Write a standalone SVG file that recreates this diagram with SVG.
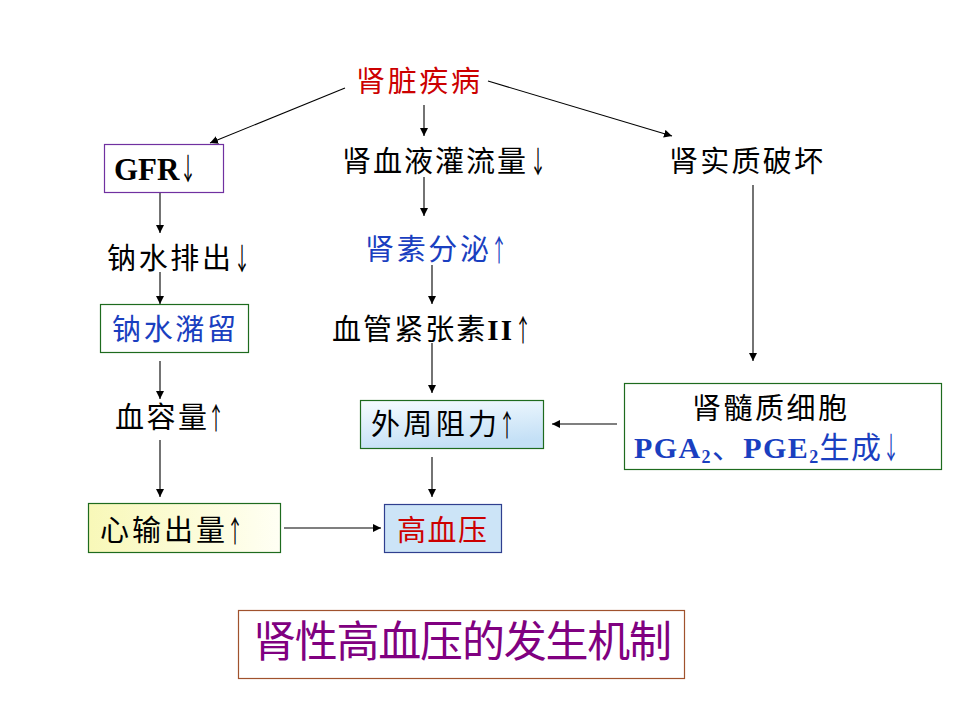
<svg xmlns="http://www.w3.org/2000/svg" width="960" height="720" viewBox="0 0 960 720">
<defs>
<style>
.t{font-family:"Noto Sans CJK SC","Noto Sans",sans-serif;font-size:29px;fill:#000}
.ar{font-family:"Noto Sans CJK SC",sans-serif;font-size:30px;text-anchor:middle;fill:#000;text-rendering:geometricPrecision}
.b{font-family:"Liberation Serif","Noto Sans CJK SC",serif;font-weight:bold}
.red{fill:#cc0000}
.blue{fill:#1a3fc0}
.c{stroke:#000;stroke-width:1.1;fill:none;marker-end:url(#ah)}
</style>
<marker id="ah" viewBox="0 0 10 10" refX="10" refY="5" markerWidth="8" markerHeight="8" markerUnits="userSpaceOnUse" orient="auto">
<path d="M0,0 L10,5 L0,10 z" fill="#000"/>
</marker>
<linearGradient id="gy" x1="0" y1="0" x2="1" y2="0">
<stop offset="0" stop-color="#f8f8b8"/>
<stop offset="1" stop-color="#fffff4"/>
</linearGradient>
<linearGradient id="gb" x1="0" y1="0" x2="0.3" y2="1">
<stop offset="0" stop-color="#f6fcff"/>
<stop offset="1" stop-color="#c4e0f6"/>
</linearGradient>
</defs>
<rect width="960" height="720" fill="#fff"/>

<g id="connectors">
<line class="c" x1="345" y1="88" x2="210" y2="143"/>
<line class="c" x1="424" y1="105" x2="424" y2="136"/>
<line class="c" x1="488" y1="81" x2="672" y2="136"/>
<line class="c" x1="160" y1="185" x2="160" y2="233"/>
<line class="c" x1="424" y1="177" x2="424" y2="216"/>
<line class="c" x1="160" y1="272" x2="160" y2="304"/>
<line class="c" x1="432" y1="265" x2="432" y2="304"/>
<line class="c" x1="753" y1="185" x2="753" y2="361"/>
<line class="c" x1="160" y1="361" x2="160" y2="399"/>
<line class="c" x1="432" y1="343" x2="432" y2="393"/>
<line class="c" x1="617" y1="424" x2="552" y2="424"/>
<line class="c" x1="160" y1="440" x2="160" y2="497"/>
<line class="c" x1="432" y1="457" x2="432" y2="497"/>
<line class="c" x1="284" y1="528" x2="381" y2="528"/>
</g>

<g id="n-kidney-disease">
<text class="t red" x="356" y="92" textLength="124" lengthAdjust="spacing">肾脏疾病</text>
</g>

<g id="n-gfr">
<rect x="104.5" y="144.5" width="119" height="48" fill="#fff" stroke="#7030a0" stroke-width="1.2"/>
<text class="b" x="114" y="180" style="font-size:31px">GFR</text>
<text class="ar" transform="translate(188,180) scale(0.55,1)">↓</text>
</g>

<g id="n-renal-perfusion">
<text class="t" x="342" y="172" textLength="184" lengthAdjust="spacing">肾血液灌流量</text>
<text class="ar" transform="translate(538,173) scale(0.55,1)">↓</text>
</g>

<g id="n-parenchyma">
<text class="t" x="669" y="172" textLength="154" lengthAdjust="spacing">肾实质破坏</text>
</g>

<g id="n-na-excretion">
<text class="t" x="107" y="269" textLength="124" lengthAdjust="spacing">钠水排出</text>
<text class="ar" transform="translate(242,270) scale(0.55,1)">↓</text>
</g>

<g id="n-renin">
<text class="t blue" x="365" y="260" textLength="124" lengthAdjust="spacing">肾素分泌</text>
<text class="ar blue" transform="translate(499,261) scale(0.55,1)">↑</text>
</g>

<g id="n-na-retention">
<rect x="100.5" y="304.5" width="148" height="48" fill="#fff" stroke="#1e6b1e" stroke-width="1.2"/>
<text class="t blue" x="112" y="340" textLength="124" lengthAdjust="spacing">钠水潴留</text>
</g>

<g id="n-angiotensin">
<text class="t" x="332" y="340" textLength="180" lengthAdjust="spacing">血管紧张素<tspan class="b">II</tspan></text>
<text class="ar" transform="translate(523,341) scale(0.55,1)">↑</text>
</g>

<g id="n-blood-volume">
<text class="t" x="115" y="428" textLength="92" lengthAdjust="spacing">血容量</text>
<text class="ar" transform="translate(216,429) scale(0.55,1)">↑</text>
</g>

<g id="n-peripheral-resistance">
<rect x="360.5" y="400.5" width="183" height="48" fill="url(#gb)" stroke="#1e6b1e" stroke-width="1.2"/>
<text class="t" x="371" y="435" textLength="126" lengthAdjust="spacing">外周阻力</text>
<text class="ar" transform="translate(507,436) scale(0.55,1)">↑</text>
</g>

<g id="n-medulla">
<rect x="624.5" y="383.5" width="317" height="86" fill="#fff" stroke="#1e6b1e" stroke-width="1.2"/>
<text class="t" x="692" y="419" textLength="155" lengthAdjust="spacing">肾髓质细胞</text>
<text class="b blue" x="634" y="458" style="font-size:30px" textLength="247" lengthAdjust="spacing">PGA<tspan style="font-size:18px" dy="5">2</tspan><tspan dy="-5" style="font-family:'Noto Sans CJK SC',sans-serif;font-weight:normal">、</tspan>PGE<tspan style="font-size:18px" dy="5">2</tspan><tspan dy="-5" style="font-family:'Noto Sans CJK SC',sans-serif;font-weight:normal">生成</tspan></text>
<text class="ar blue" transform="translate(891,459) scale(0.55,1)">↓</text>
</g>

<g id="n-cardiac-output">
<rect x="88.5" y="503.5" width="192" height="49" fill="url(#gy)" stroke="#1e6b1e" stroke-width="1.2"/>
<text class="t" x="100" y="541" textLength="125" lengthAdjust="spacing">心输出量</text>
<text class="ar" transform="translate(235,542) scale(0.55,1)">↑</text>
</g>

<g id="n-hypertension">
<rect x="384.5" y="504.5" width="117" height="48" fill="#cce4f7" stroke="#2f3f8f" stroke-width="1.2"/>
<text class="t red" x="397" y="541" textLength="90" lengthAdjust="spacing">高血压</text>
</g>

<g id="n-title">
<rect x="238.5" y="610.5" width="446" height="68" fill="#fff" stroke="#a0522d" stroke-width="1.2"/>
<text class="t" x="253" y="657" style="font-size:43px;fill:#800080" textLength="419" lengthAdjust="spacing">肾性高血压的发生机制</text>
</g>
</svg>
